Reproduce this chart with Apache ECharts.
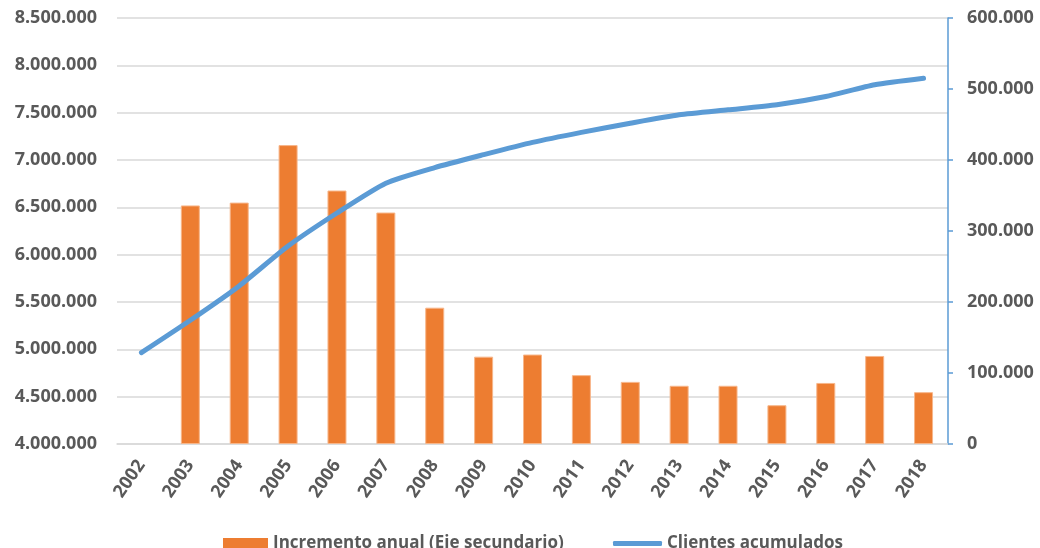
<!DOCTYPE html>
<html>
<head>
<meta charset="utf-8">
<title>Clientes acumulados e incremento anual</title>
<script src="https://cdn.jsdelivr.net/npm/echarts@6/dist/echarts.min.js"></script>
<style>
  html, body { margin: 0; padding: 0; background: #ffffff; }
  #chart { width: 1040px; height: 548px; }
</style>
</head>
<body>
<div id="chart"></div>
<script>
// Años
const years = ['2002', '2003', '2004', '2005', '2006', '2007', '2008', '2009', '2010',
  '2011', '2012', '2013', '2014', '2015', '2016', '2017', '2018'];

// Clientes acumulados (eje principal)
const clientesAcumulados = [4965000, 5307000, 5670000, 6091000, 6440000, 6755000, 6920000,
  7056000, 7186000, 7292000, 7388000, 7477000, 7530000, 7583000, 7670000, 7795000, 7864000];

// Incremento anual (eje secundario)
const incrementoAnual = [null, 336000, 340000, 421000, 357000, 326000, 192000, 123000,
  126000, 97000, 87500, 82000, 82000, 54600, 86000, 124000, 73000];

const seriesNames = ['Incremento anual (Eje secundario)', 'Clientes acumulados'];

const textColor = '#595959';
const fontFamily = '"Open Sans", "Liberation Sans", sans-serif';
const orange = '#ED7D31';
const blue = '#5B9BD5';

// Separador de miles con punto
function fmt(v) {
  return String(v).replace(/\B(?=(\d{3})+(?!\d))/g, '.');
}

const legendText = { color: textColor, fontSize: 17, fontWeight: 'bold', fontFamily: fontFamily };

const chart = echarts.init(document.getElementById('chart'), null, { renderer: 'canvas' });

chart.setOption({
  animation: false,
  backgroundColor: '#ffffff',
  textStyle: { fontFamily: fontFamily },
  grid: { left: 117, right: 92, top: 18, bottom: 104, containLabel: false },
  legend: [
    {
      left: 218,
      top: 530,
      itemWidth: 45,
      itemHeight: 11,
      icon: 'rect',
      itemStyle: { color: orange, borderWidth: 0 },
      textStyle: legendText,
      data: [seriesNames[0]]
    },
    {
      left: 608,
      top: 530,
      itemWidth: 49,
      itemHeight: 5,
      icon: 'roundRect',
      itemStyle: { color: blue, borderWidth: 0 },
      lineStyle: { width: 0 },
      textStyle: legendText,
      data: [seriesNames[1]]
    }
  ],
  xAxis: {
    type: 'category',
    data: years,
    boundaryGap: true,
    axisLine: { show: true, lineStyle: { color: '#D9D9D9', width: 1.5 } },
    axisTick: { show: false },
    axisLabel: {
      rotate: 55,
      margin: 18,
      color: textColor,
      fontSize: 18,
      fontWeight: 'bold',
      fontFamily: fontFamily
    }
  },
  yAxis: [
    {
      type: 'value',
      min: 4000000,
      max: 8500000,
      interval: 500000,
      position: 'left',
      axisLine: { show: false },
      axisTick: { show: false },
      splitLine: { show: true, lineStyle: { color: '#D9D9D9', width: 1.5 } },
      axisLabel: {
        margin: 20,
        color: textColor,
        fontSize: 18,
        fontWeight: 'bold',
        fontFamily: fontFamily,
        formatter: fmt
      }
    },
    {
      type: 'value',
      min: 0,
      max: 600000,
      interval: 100000,
      position: 'right',
      axisLine: { show: true, lineStyle: { color: blue, width: 1.5 } },
      axisTick: { show: true, inside: false, length: 5, lineStyle: { color: blue, width: 1.5 } },
      splitLine: { show: false },
      axisLabel: {
        margin: 19,
        color: textColor,
        fontSize: 18,
        fontWeight: 'bold',
        fontFamily: fontFamily,
        formatter: fmt
      }
    }
  ],
  series: [
    {
      name: seriesNames[0],
      type: 'bar',
      yAxisIndex: 1,
      data: incrementoAnual,
      barWidth: 19,
      itemStyle: { color: orange, borderColor: '#F7B68A', borderWidth: 1 },
      z: 2
    },
    {
      name: seriesNames[1],
      type: 'line',
      yAxisIndex: 0,
      data: clientesAcumulados,
      smooth: 0.2,
      symbol: 'none',
      lineStyle: { color: blue, width: 5, cap: 'round' },
      itemStyle: { color: blue },
      z: 3
    }
  ]
});
</script>
</body>
</html>
